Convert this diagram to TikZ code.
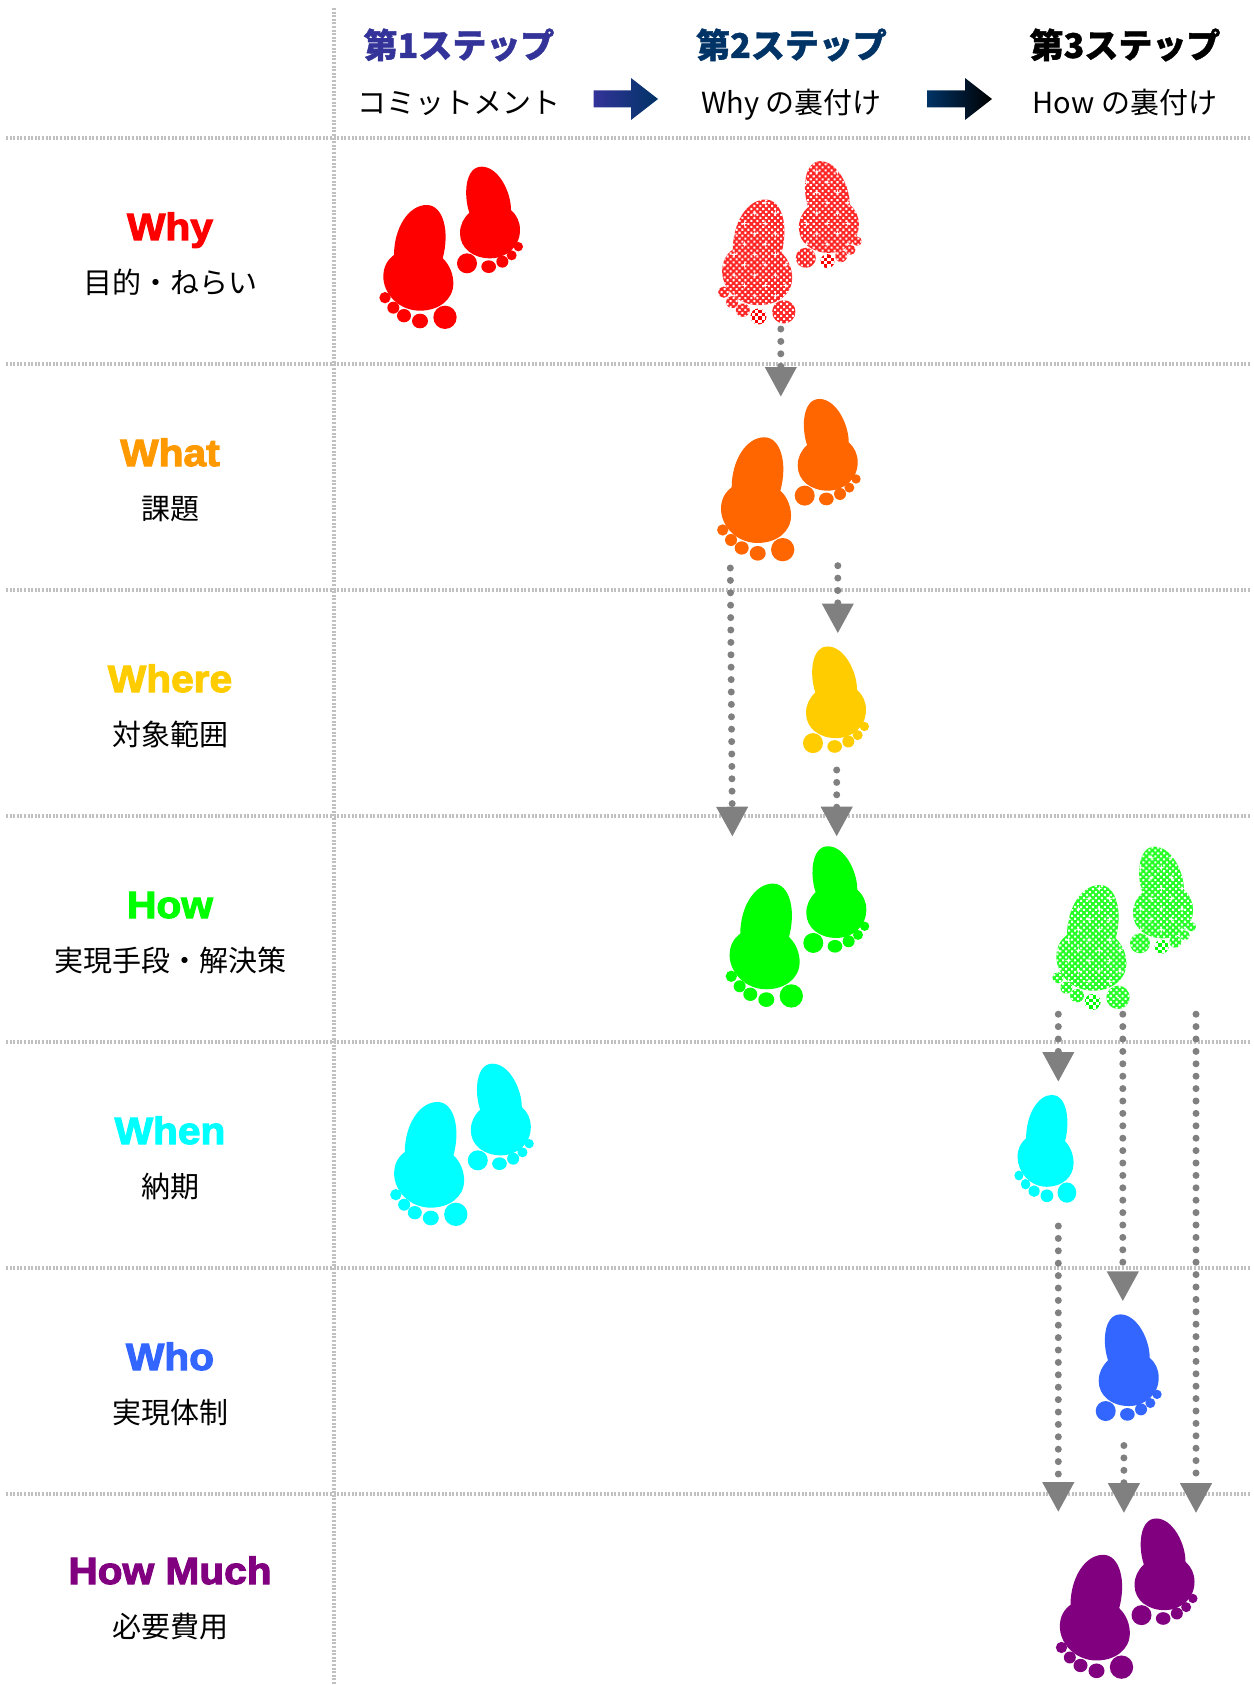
\documentclass[tikz,border=0pt]{standalone}
\usepackage{fontspec}
\setmainfont{Noto Sans CJK JP}
\newfontfamily\stepf{Noto Sans CJK JP}[BoldFeatures={FakeBold=1.2}]
\newfontfamily\headf{Liberation Sans}[BoldFeatures={FakeBold=3,FakeStretch=1.07}]
\usetikzlibrary{arrows.meta,patterns.meta}
\definecolor{fred}{HTML}{FF0000}
\definecolor{forange}{HTML}{FF6600}
\definecolor{lorange}{HTML}{FF9900}
\definecolor{fyellow}{HTML}{FFCC00}
\definecolor{fgreen}{HTML}{00FF00}
\definecolor{fcyan}{HTML}{00FFFF}
\definecolor{fblue}{HTML}{3366FF}
\definecolor{fpurple}{HTML}{800080}
\definecolor{sone}{HTML}{333399}
\definecolor{stwo}{HTML}{003366}
\definecolor{gridc}{HTML}{C0C0C0}
\definecolor{arrc}{HTML}{808080}
\tikzset{
  gridline/.style={gridc,line width=4pt,dash pattern=on 2pt off 1.6pt},
  follow/.style={arrc,line width=7pt,line cap=round,dash pattern=on 0pt off 12.4pt,
     -{Triangle[width=30pt,length=30pt,line cap=butt,sep=0pt]}},
  headword/.style={font=\headf\bfseries\fontsize{38}{40}\selectfont,anchor=base},
  subword/.style={font=\fontsize{29}{32}\selectfont,anchor=center,black,text height=25pt,text depth=4pt},
  stepword/.style={font=\stepf\bfseries\fontsize{34}{38}\selectfont,anchor=center},
}
% foot outlines, in zoom units (3 units = 1 px)
\newcommand\lowerbody{(72,315) .. controls (72,235) and (115,165) .. (170,165) .. controls (220,165) and (240,245) .. (218,325) .. controls (240,345) and (250,375) .. (250,400) .. controls (250,450) and (205,482) .. (150,482) .. controls (85,482) and (40,430) .. (40,380) .. controls (40,350) and (52,330) .. (72,315) -- cycle}
\newcommand\upperbody{(298,188) .. controls (280,135) and (285,50) .. (335,50) .. controls (385,50) and (423,125) .. (423,180) .. controls (440,195) and (450,215) .. (450,240) .. controls (450,290) and (410,325) .. (360,325) .. controls (310,325) and (270,295) .. (270,250) .. controls (270,225) and (280,205) .. (298,188) -- cycle}
\newcommand\lowertoes[1]{%
  \fill[#1] (225,502) circle[radius=35];
  \fill[#1] (102,497) circle[x radius=21,y radius=20];
  \fill[#1] (70,473) circle[radius=18];
  \fill[#1] (45,443) circle[radius=17];}
\newcommand\uppertoes[1]{%
  \fill[#1] (291,340) circle[radius=30];
  \fill[#1] (397,335) circle[radius=18];
  \fill[#1] (425,316) circle[radius=15];
  \fill[#1] (445,290) circle[radius=14];}
\newcommand\lowerfoot[3]{% x y colour
  \begin{scope}[shift={(#1,#2)},scale=1/3]
    \fill[#3] \lowerbody; \lowertoes{#3}
    \fill[#3] (150,513) circle[x radius=24,y radius=22];
  \end{scope}}
\newcommand\upperfoot[3]{%
  \begin{scope}[shift={(#1,#2)},scale=1/3]
    \fill[#3] \upperbody; \uppertoes{#3}
    \fill[#3] (356,350) circle[x radius=22,y radius=19];
  \end{scope}}
\newcommand\sparkles{%
  \foreach \i in {0,...,8}{\foreach \j in {0,...,22}{%
    \pgfmathsetmacro\px{200+(\i-4)*62+mod(\j,2)*31}%
    \pgfmathsetmacro\py{20+\j*31}%
    \fill[white] (\px,\py) circle[radius=4];
    \fill[white] (\px-10,\py) -- (\px,\py-1.8) -- (\px+10,\py) -- (\px,\py+1.8) -- cycle;
    \fill[white] (\px,\py-10) -- (\px-1.8,\py) -- (\px,\py+10) -- (\px+1.8,\py) -- cycle;
  }}}
\newcommand\checkertoe[4]{% cx cy r colour
  \begin{scope}
    \clip (#1,#2) circle[radius=#3];
    \fill[white] (#1,#2) circle[radius=#3];
    \foreach \i in {-3,...,2}{\foreach \j in {-3,...,2}{%
      \pgfmathparse{int(mod(\i+\j+6,2))}%
      \ifnum\pgfmathresult=0
        \fill[#4] (#1+\i*10,#2+\j*10) rectangle ++(10,10);
      \fi}}
  \end{scope}}
\newcommand\dottedpair[3]{%
  \begin{scope}[shift={(#1,#2)},scale=1/3]
    \tikzset{dotty/.style={fill=#3!85!white,postaction={pattern={Dots[distance=4.2pt,radius=1.45pt,angle=45]},pattern color=white}}}
    \path[dotty] \lowerbody;
    \begin{scope}\clip \lowerbody; \sparkles\end{scope}
    \lowertoes{dotty}
    \fill[white] (225,502) circle[radius=3];
    \checkertoe{149}{516}{24}{#3}
    \path[dotty] \upperbody;
    \begin{scope}\clip \upperbody; \sparkles\end{scope}
    \uppertoes{dotty}
    \checkertoe{356}{350}{21}{#3}
  \end{scope}}
\begin{document}
\begin{tikzpicture}[x=1pt,y=-1pt]
\useasboundingbox (0,0) rectangle (1253,1685);
% grid
\foreach \y/\n in {138/a,363.5/b,589.5/c,815.5/d,1042/e,1268/f,1494/g}{
  \coordinate (gl\n) at (6,\y); \coordinate (gr\n) at (1251,\y);
  \draw[gridline] (gl\n) -- (gr\n);}
\coordinate (vt) at (333.5,8); \coordinate (vb) at (333.5,1685);
\draw[gridline] (vt) -- (vb);
% header
\node[stepword,text=sone] (s1) at (459,45) {第1ステップ};
\node[stepword,text=stwo] (s2) at (791.5,45) {第2ステップ};
\node[stepword,text=black] (s3) at (1125,45) {第3ステップ};
\node[subword] (t1) at (459,103) {コミットメント};
\node[subword] (t2) at (791.5,103) {Why の裏付け};
\node[subword] (t3) at (1125,103) {How の裏付け};
\path[left color=sone,right color=stwo] (593.7,90.5) -- (631,90.5) -- (631,78) -- (658,99) -- (631,120) -- (631,107.5) -- (593.7,107.5) -- cycle;
\path[left color=stwo,right color=black] (927,90.5) -- (965,90.5) -- (965,78) -- (992,99) -- (965,120) -- (965,107.5) -- (927,107.5) -- cycle;
% row labels
\foreach \n/\y/\z/\w/\c/\j in {
  a/240/283/Why/fred/目的・ねらい,
  b/466/509/What/lorange/課題,
  c/692/735/Where/fyellow/対象範囲,
  d/918/961/How/fgreen/実現手段・解決策,
  e/1144/1187/When/fcyan/納期,
  f/1370/1413/Who/fblue/実現体制}{
  \node[headword,text=\c] (h\n) at (170,\y) {\w};
  \node[subword] (j\n) at (170,\z) {\j};
}
\node[headword,text=fpurple] (hg) at (170,1584) {How Much};
\node[subword] (jg) at (170,1627) {必要費用};
% feet
\lowerfoot{370}{150}{fred}\upperfoot{370}{150}{fred}
\dottedpair{708.8}{144.5}{fred}
\lowerfoot{707.7}{382.3}{forange}\upperfoot{707.7}{382.3}{forange}
\upperfoot{716}{629.8}{fyellow}
\lowerfoot{716.3}{828.6}{fgreen}\upperfoot{716.3}{829.6}{fgreen}
\dottedpair{1043}{830}{fgreen}
\lowerfoot{380.8}{1047}{fcyan}\upperfoot{380.8}{1047}{fcyan}
\begin{scope}[shift={(1006.9,1047)},xscale=.8,yscale=.87]\lowerfoot{0}{0}{fcyan}\end{scope}
\upperfoot{1008.7}{1297.7}{fblue}
\lowerfoot{1046.5}{1499.8}{fpurple}\upperfoot{1044.5}{1501.8}{fpurple}
% follow arrows
\coordinate (a1) at (780.8,329); \coordinate (b1) at (780.8,397);
\coordinate (a2) at (730.3,568); \coordinate (b2) at (732.4,836.7);
\coordinate (a3) at (837.8,565.7); \coordinate (b3) at (837.8,633.5);
\coordinate (a4) at (836.7,770); \coordinate (b4) at (836.7,836.7);
\coordinate (a5) at (1058.3,1014.2); \coordinate (b5) at (1058.3,1082);
\coordinate (a6) at (1122.8,1014.2); \coordinate (b6) at (1122.8,1301.4);
\coordinate (a7) at (1196,1014.2); \coordinate (b7) at (1196,1513.2);
\coordinate (a8) at (1058.3,1226); \coordinate (b8) at (1058.3,1512.2);
\coordinate (a9) at (1123.9,1445.5); \coordinate (b9) at (1123.9,1513.2);
\foreach \k in {1,...,9}{\draw[follow] (a\k) -- (b\k);}
\end{tikzpicture}
\end{document}
